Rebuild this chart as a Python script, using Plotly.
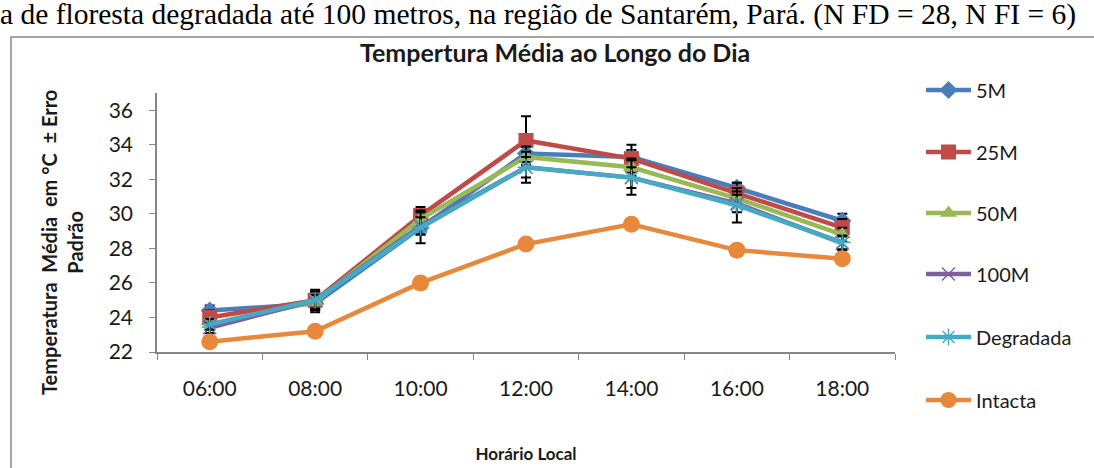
import plotly.graph_objects as go

hours = ["06:00", "08:00", "10:00", "12:00", "14:00", "16:00", "18:00"]

t_5m = [24.4, 24.8, 29.2, 33.5, 33.3, 31.5, 29.6]
t_25m = [24.0, 25.0, 29.9, 34.25, 33.2, 31.2, 29.2]
t_50m = [23.6, 24.9, 29.7, 33.3, 32.7, 30.9, 28.8]
t_100m = [23.4, 25.0, 29.3, 32.7, 32.1, 30.6, 28.3]
t_degradada = [23.6, 25.0, 29.2, 32.7, 32.1, 30.5, 28.35]
t_intacta = [22.6, 23.2, 26.0, 28.25, 29.4, 27.9, 27.4]

e_5m = [0.3, 0.5, 0.4, 0.5, 0.4, 0.3, 0.4]
e_25m = [0.4, 0.5, 0.5, 1.4, 0.8, 0.6, 0.5]
e_50m = [0.3, 0.4, 0.5, 0.6, 0.5, 0.4, 0.4]
e_100m = [0.3, 0.5, 0.5, 0.6, 0.6, 0.5, 0.4]
e_degradada = [0.3, 0.6, 0.9, 0.9, 1.0, 1.0, 0.4]
e_intacta = [0.2, 0.2, 0.35, 0.3, 0.3, 0.2, 0.2]

series = [
    ("5M", t_5m, e_5m, "#4A7EBB", "diamond", 14),
    ("25M", t_25m, e_25m, "#BE4B48", "square", 15),
    ("50M", t_50m, e_50m, "#98B954", "triangle-up", 15),
    ("100M", t_100m, e_100m, "#7D60A0", "x-thin-open", 13),
    ("Degradada", t_degradada, e_degradada, "#46AAC5", "asterisk-open", 14),
    ("Intacta", t_intacta, e_intacta, "#E8883A", "circle", 17),
]

W, H = 1094, 468
L, R, T, B = 157, 895, 93, 352
LEGEND_Y = [90, 152, 213, 274, 337, 400]


def px(x):
    return (x - L) / (R - L)


def py(y):
    return (B - y) / (B - T)


FONT = "Lato, 'Open Sans', sans-serif"

fig = go.Figure()
legend_layouts = {}
for i, (name, vals, errs, color, sym, size) in enumerate(series):
    marker = dict(symbol=sym, size=size, color=color)
    if sym.endswith("-open"):
        marker["line"] = dict(color=color, width=1.5)
    lg = "legend" if i == 0 else f"legend{i + 1}"
    fig.add_trace(go.Scatter(
        x=hours, y=vals, name=name, mode="lines+markers",
        line=dict(color=color, width=4.5),
        marker=marker,
        error_y=dict(type="data", array=errs, visible=True,
                     color="#000000", thickness=2, width=5),
        legend=lg,
    ))
    legend_layouts[lg] = dict(
        x=px(921), y=py(LEGEND_Y[i]), xanchor="left", yanchor="middle",
        font=dict(size=20, color="#1a1a1a"), itemwidth=45,
        bgcolor="rgba(0,0,0,0)",
    )

fig.update_layout(
    width=W, height=H,
    margin=dict(l=L, r=W - R, t=T, b=H - B, autoexpand=False),
    paper_bgcolor="white", plot_bgcolor="white",
    font=dict(family=FONT, size=21, color="#1a1a1a"),
    showlegend=True,
    xaxis=dict(type="category", showgrid=False, showline=True,
               linecolor="#868686", linewidth=1.5, ticks="outside",
               tickson="boundaries", ticklen=6, tickcolor="#868686",
               ticklabelstandoff=17, zeroline=False, automargin=False,
               range=[-0.5, 6.5],
               title=dict(text="<b>Horário Local</b>", standoff=49,
                          font=dict(size=17))),
    yaxis=dict(range=[22, 37], showgrid=False, automargin=False,
               showline=True, linecolor="#868686", linewidth=1.5,
               ticks="outside", ticklen=6, tickcolor="#868686",
               ticklabelstandoff=12, zeroline=False,
               tickvals=[22, 24, 26, 28, 30, 32, 34, 36]),
    **legend_layouts,
)

fig.add_annotation(
    x=px(62), y=py(243), xref="paper", yref="paper",
    xanchor="center", yanchor="middle",
    text="<b>Temperatura&nbsp; Média&nbsp; em °C&nbsp; ± Erro<br>Padrão</b>",
    textangle=-90, showarrow=False, font=dict(size=20),
)
fig.add_annotation(
    x=px(555), y=py(52), xref="paper", yref="paper",
    xanchor="center", yanchor="middle",
    text="<b>Tempertura Média ao Longo do Dia</b>",
    showarrow=False, font=dict(size=25),
)
fig.add_annotation(
    x=px(-2), y=py(33), xref="paper", yref="paper",
    xanchor="left", yanchor="bottom",
    text="a de floresta degradada até 100 metros, na região de Santarém, Pará. (N FD = 28, N FI = 6)",
    showarrow=False, font=dict(family="Liberation Serif, serif", size=29.5, color="#000000"),
)
fig.add_shape(
    type="rect", xref="paper", yref="paper",
    x0=px(11), x1=px(1110), y0=py(500), y1=py(37),
    line=dict(color="#868686", width=1.5), fillcolor="rgba(0,0,0,0)",
    layer="below",
)

fig.write_html("out.html", config={"displayModeBar": False},
               post_script="document.body.style.margin='0px';")
